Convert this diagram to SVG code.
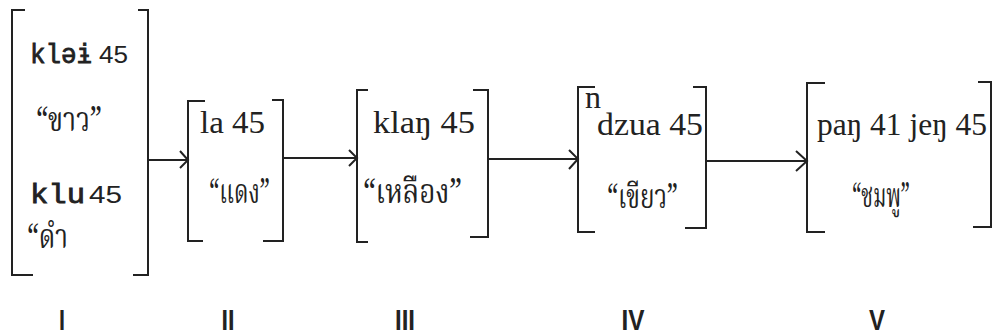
<svg xmlns="http://www.w3.org/2000/svg" width="995" height="336" viewBox="0 0 995 336">
<style>
.br{fill:none;stroke:#222;stroke-width:2}
.ar{fill:none;stroke:#222;stroke-width:2}
.mono{font-family:"Liberation Mono","DejaVu Sans Mono",monospace;font-size:27px;fill:#222;stroke:#222;stroke-width:0.8}
.sans{font-family:"Liberation Sans",Arial,sans-serif;font-size:24px;fill:#222}
.ser{font-family:"Liberation Serif","Times New Roman",serif;font-size:32px;fill:#222}
.th{font-family:"Noto Serif Thai","Noto Sans Thai","Loma","Garuda","Liberation Serif",serif;font-size:34px;fill:#222}
.num{font-family:"Liberation Sans Narrow","Liberation Sans",sans-serif;font-weight:bold;font-size:30px;fill:#222;text-anchor:middle}
</style>
<rect width="995" height="336" fill="#fff"/>
<g id="connectors">
<path class="ar" d="M148 160 H188 M180 151 L188 160 L180 168"/>
<path class="ar" d="M283 158 H357 M349 150 L357 158 L349 166"/>
<path class="ar" d="M488 159 H578 M569 150 L578 159 L569 169"/>
<path class="ar" d="M706 161 H807 M796 151 L807 161 L796 171"/>
</g>
<g id="node-I">
<path class="br" d="M25 10 H12 V275 H33 M138 10 H148 V275 H133"/>
<text class="mono" x="30" y="63" textLength="62" lengthAdjust="spacingAndGlyphs">klǝɨ</text>
<text class="sans" x="99" y="63" textLength="29" lengthAdjust="spacingAndGlyphs">45</text>
<text class="th" x="36" y="131" textLength="66" lengthAdjust="spacingAndGlyphs">“ขาว”</text>
<text class="mono" x="30" y="203" textLength="55" lengthAdjust="spacingAndGlyphs" font-size="30">klu</text>
<text class="sans" x="89" y="203" textLength="33" lengthAdjust="spacingAndGlyphs">45</text>
<text class="th" x="27" y="248" textLength="41" lengthAdjust="spacingAndGlyphs">“ดำ</text>
</g>
<g id="node-II">
<path class="br" d="M205 101 H188 V241 H203 M272 100 H283 V241 H263"/>
<text class="ser" x="200" y="133" textLength="65" lengthAdjust="spacingAndGlyphs">la  45</text>
<text class="th" x="209" y="203" textLength="61" lengthAdjust="spacingAndGlyphs">“แดง”</text>
</g>
<g id="node-III">
<path class="br" d="M368 90 H357 V242 H368 M473 90 H488 V237 H470"/>
<text class="ser" x="373" y="133" textLength="102" lengthAdjust="spacingAndGlyphs">klaŋ  45</text>
<text class="th" x="363" y="203" textLength="99" lengthAdjust="spacingAndGlyphs">“เหลือง”</text>
</g>
<g id="node-IV">
<path class="br" d="M595 87 H578 V232 H595 M693 87 H706 V228 H685"/>
<text class="ser" x="585" y="108" font-size="13">n</text>
<text class="ser" x="597" y="135" textLength="106" lengthAdjust="spacingAndGlyphs">dzua 45</text>
<text class="th" x="607" y="208" textLength="71" lengthAdjust="spacingAndGlyphs">“เขียว”</text>
</g>
<g id="node-V">
<path class="br" d="M825 83 H807 V232 H825 M978 82 H991 V227 H973"/>
<text class="ser" x="817" y="135" textLength="170" lengthAdjust="spacingAndGlyphs">paŋ 41 jeŋ 45</text>
<text class="th" x="852" y="207" textLength="58" lengthAdjust="spacingAndGlyphs">“ชมพู”</text>
</g>
<g id="labels">
<text class="num" x="62" y="330" textLength="6" lengthAdjust="spacingAndGlyphs">I</text>
<text class="num" x="228" y="330" textLength="13" lengthAdjust="spacingAndGlyphs">II</text>
<text class="num" x="405" y="330" textLength="20" lengthAdjust="spacingAndGlyphs">III</text>
<text class="num" x="633" y="330" textLength="23" lengthAdjust="spacingAndGlyphs">IV</text>
<text class="num" x="877" y="330" textLength="16" lengthAdjust="spacingAndGlyphs">V</text>
</g>
</svg>
